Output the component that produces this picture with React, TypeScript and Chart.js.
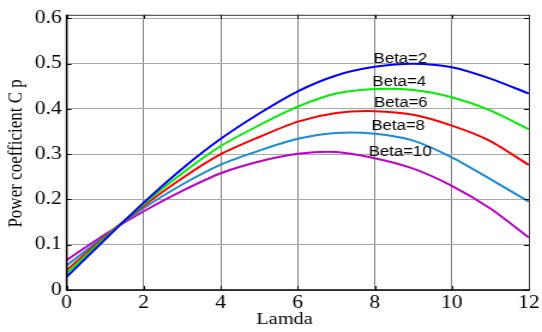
import { useEffect, useRef } from "react";
import { Chart, registerables } from "chart.js";

Chart.register(...registerables);

// Tip speed ratio (x axis)
const lamda = [0, 1, 2, 3, 4, 5, 6, 7, 8, 9, 10, 11, 12];

// Power coefficient Cp for each pitch angle
const cpBeta2 = [0.029, 0.112, 0.193, 0.268, 0.334, 0.39, 0.439, 0.474, 0.493, 0.5, 0.492, 0.467, 0.434];
const cpBeta4 = [0.037, 0.115, 0.19, 0.258, 0.318, 0.364, 0.405, 0.434, 0.444, 0.442, 0.426, 0.397, 0.355];
const cpBeta6 = [0.044, 0.118, 0.186, 0.247, 0.3, 0.338, 0.372, 0.391, 0.395, 0.387, 0.363, 0.329, 0.276];
const cpBeta8 = [0.054, 0.12, 0.181, 0.233, 0.277, 0.308, 0.334, 0.347, 0.345, 0.33, 0.293, 0.245, 0.195];
const cpBeta10 = [0.066, 0.123, 0.174, 0.219, 0.258, 0.284, 0.301, 0.305, 0.291, 0.268, 0.23, 0.18, 0.116];

const seriesNames = ["Beta=2", "Beta=4", "Beta=6", "Beta=8", "Beta=10"];
const seriesValues = [cpBeta2, cpBeta4, cpBeta6, cpBeta8, cpBeta10];
const seriesColors = ["#0000ff", "#00ee00", "#ff0000", "#1a8cd2", "#c000c8"];

// Where each curve's text label sits (data units: lamda, Cp)
const labelLamda = [7.97, 7.94, 7.98, 7.91, 7.84];
const labelCp = [0.51, 0.459, 0.412, 0.362, 0.304];

const xTitle = "Lamda";
const yTitle = "Power coefficient C p";

// The figure is drawn on a narrower canvas and stretched horizontally.
const CANVAS_W = 452;
const CANVAS_H = 332;
const SHOWN_W = 542;

const SERIF = "'Liberation Serif', 'Times New Roman', serif";
const SANS = "'Liberation Sans', Arial, sans-serif";

const framePlugin = {
  id: "frame",
  afterDatasetsDraw(chart: any) {
    const { ctx, chartArea: a, scales } = chart;
    const xs = scales.x;
    const ys = scales.y;
    ctx.save();

    // curve labels
    ctx.font = `14px ${SANS}`;
    ctx.fillStyle = "#000";
    ctx.textAlign = "left";
    ctx.textBaseline = "middle";
    seriesNames.forEach((t, i) => {
      ctx.fillText(t, xs.getPixelForValue(labelLamda[i]), ys.getPixelForValue(labelCp[i]));
    });

    // inward tick marks on all four sides
    ctx.strokeStyle = "#000";
    ctx.lineWidth = 1;
    const tl = 4;
    ctx.beginPath();
    xs.ticks.forEach((t: any) => {
      const px = Math.round(xs.getPixelForValue(t.value)) + 0.5;
      ctx.moveTo(px, a.bottom);
      ctx.lineTo(px, a.bottom - tl);
      ctx.moveTo(px, a.top);
      ctx.lineTo(px, a.top + tl);
    });
    ys.ticks.forEach((t: any) => {
      const py = Math.round(ys.getPixelForValue(t.value)) + 0.5;
      ctx.moveTo(a.left, py);
      ctx.lineTo(a.left + tl, py);
      ctx.moveTo(a.right, py);
      ctx.lineTo(a.right - tl, py);
    });
    ctx.stroke();

    // axes box
    ctx.strokeStyle = "#333";
    ctx.lineWidth = 1;
    ctx.beginPath();
    ctx.moveTo(a.left, a.top + 0.5);
    ctx.lineTo(a.right + 0.5, a.top + 0.5);
    ctx.lineTo(a.right + 0.5, a.bottom);
    ctx.stroke();
    ctx.strokeStyle = "#000";
    ctx.lineWidth = 1.6;
    ctx.beginPath();
    ctx.moveTo(a.left, a.top);
    ctx.lineTo(a.left, a.bottom);
    ctx.lineTo(a.right + 1, a.bottom);
    ctx.stroke();

    // axis titles
    ctx.fillStyle = "#000";
    ctx.font = `17px ${SERIF}`;
    ctx.textAlign = "center";
    ctx.textBaseline = "middle";
    ctx.fillText(xTitle, (a.left + a.right) / 2 - 11, a.bottom + 30);
    ctx.save();
    ctx.translate(13.5, (a.top + a.bottom) / 2 + 1);
    ctx.rotate(-Math.PI / 2);
    ctx.fillText(yTitle, 0, 0);
    ctx.restore();

    ctx.restore();
  },
};

export default function App() {
  const canvasRef = useRef<HTMLCanvasElement | null>(null);

  useEffect(() => {
    if (!canvasRef.current) return;
    const chart = new Chart(canvasRef.current, {
      type: "line",
      data: {
        datasets: seriesValues.map((vals, i) => ({
          label: seriesNames[i],
          data: lamda.map((l, j) => ({ x: l, y: vals[j] })),
          borderColor: seriesColors[i],
          backgroundColor: seriesColors[i],
          borderWidth: 2,
          pointRadius: 0,
          tension: 0.25,
          fill: false,
        })),
      },
      options: {
        responsive: false,
        animation: false,
        devicePixelRatio: 1,
        layout: { padding: { top: 7.3, right: 7.5, left: 0, bottom: 0 } },
        plugins: {
          legend: { display: false },
          tooltip: { enabled: false },
          title: { display: false },
        },
        scales: {
          x: {
            type: "linear",
            min: 0,
            max: 12,
            afterFit: (s: any) => {
              s.height = 42;
            },
            border: { display: false },
            grid: { color: "#858585", lineWidth: 1, drawTicks: false },
            ticks: {
              stepSize: 2,
              padding: 2,
              color: "#000",
              font: { family: SERIF, size: 18 },
              maxRotation: 0,
            },
          },
          y: {
            type: "linear",
            min: 0,
            max: 0.608,
            afterFit: (s: any) => {
              s.width = 55.6;
            },
            border: { display: false },
            grid: { color: "#a8a8a8", lineWidth: 1, drawTicks: false },
            ticks: {
              stepSize: 0.1,
              includeBounds: false,
              padding: 4,
              color: "#000",
              font: { family: SERIF, size: 18 },
              callback: (v: any) => (Number(v) === 0 ? "0" : Number(v).toFixed(1)),
            },
          },
        },
      },
      plugins: [framePlugin],
    } as any);
    return () => chart.destroy();
  }, []);

  return (
    <div
      style={{
        position: "fixed",
        left: 0,
        top: 0,
        width: SHOWN_W,
        height: CANVAS_H,
        background: "#fff",
      }}
    >
      <canvas
        ref={canvasRef}
        width={CANVAS_W}
        height={CANVAS_H}
        style={{ width: `${SHOWN_W}px`, height: `${CANVAS_H}px`, display: "block" }}
      />
    </div>
  );
}
